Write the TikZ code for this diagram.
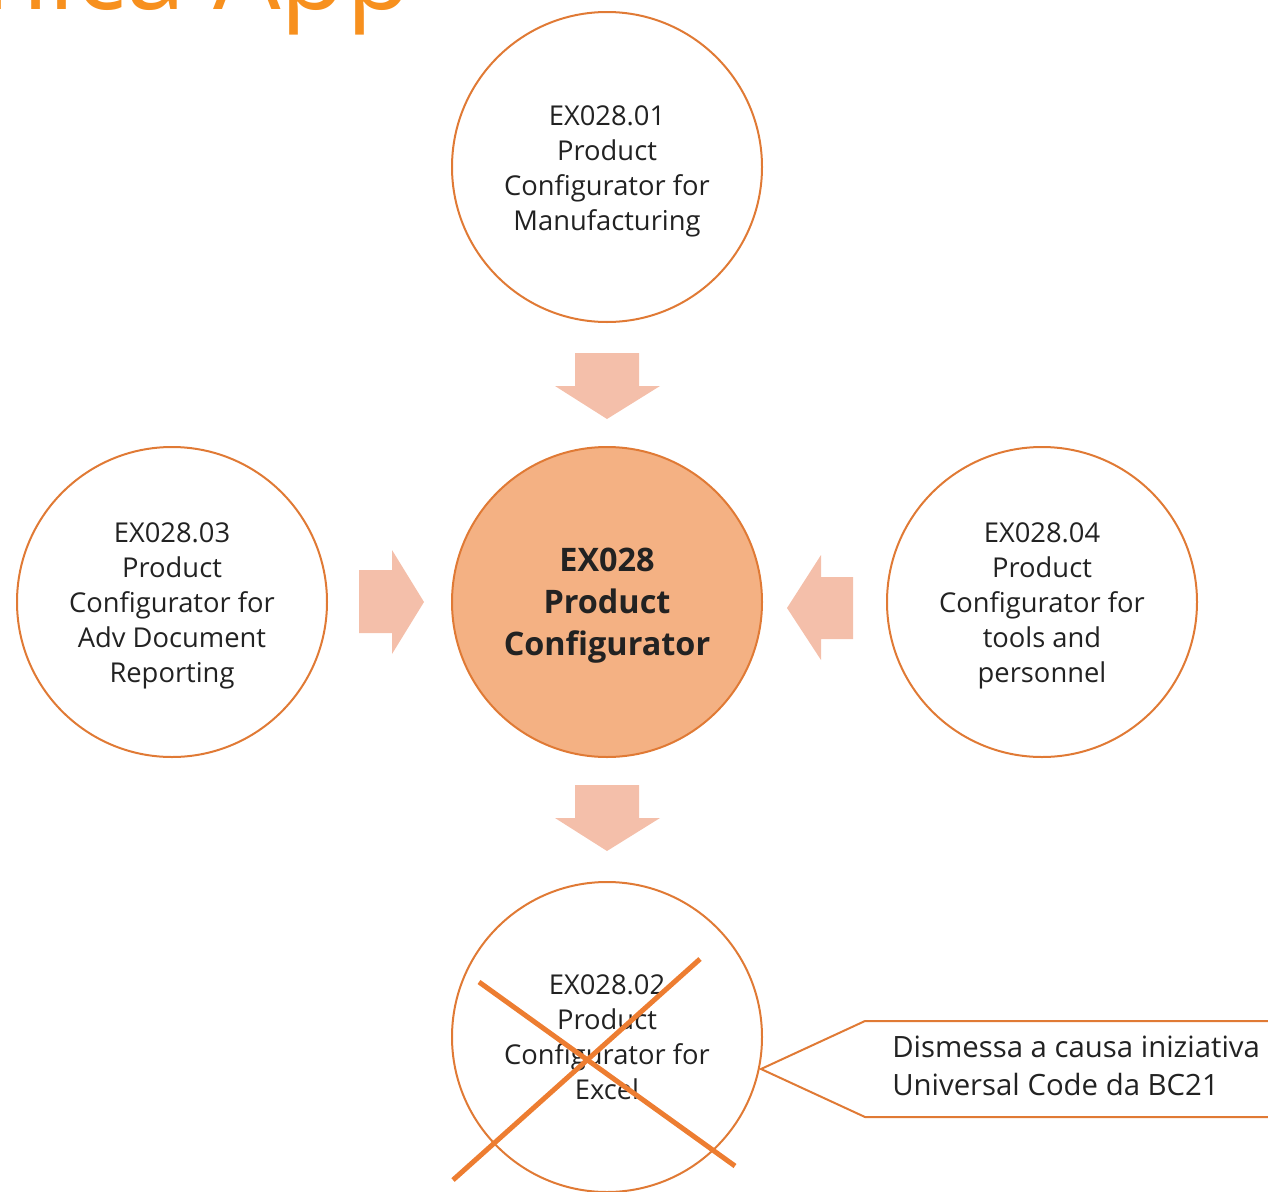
\documentclass[tikz,border=0pt]{standalone}
\usepackage{fontspec}
\setmainfont{Open Sans}
\definecolor{ringc}{HTML}{E07A35}
\definecolor{hubfill}{HTML}{F4B183}
\definecolor{arrowc}{HTML}{F4BFAA}
\definecolor{crossc}{HTML}{ED7D31}
\definecolor{titlec}{HTML}{F7901E}
\definecolor{txt}{HTML}{222222}
\begin{document}
\begin{tikzpicture}[x=0.75pt,y=-0.75pt,
  ring/.style={circle,draw=ringc,line width=1.5pt,minimum size=232.5pt,inner sep=0pt},
  hub/.style={ring,fill=hubfill},
  ringtext/.style={align=center,text=txt,inner sep=0pt,font=\fontsize{20.5}{26.25}\selectfont},
  hubtext/.style={align=center,text=txt,inner sep=0pt,font=\fontsize{24.3}{31.5}\selectfont\bfseries},
  blockarrow/.style={fill=arrowc,draw=none},
  cross/.style={draw=crossc,line width=3.75pt},
  callout/.style={draw=ringc,line width=1.5pt,fill=white},
  note/.style={anchor=west,align=left,text=txt,inner sep=0pt,font=\fontsize{22}{28}\selectfont}]
\useasboundingbox (0,0) rectangle (1268,1192);
\clip (0,0) rectangle (1268,1192);
% title fragment
\node[anchor=base east,inner sep=0pt,text=titlec,font=\fontsize{80}{90}\selectfont] (title) at (412,10) {Tecnica App};
% circles
\node[ring] (top) at (607,167) {};
\node[hub] (hub) at (607,602) {};
\node[ring] (left) at (172,602) {};
\node[ring] (right) at (1042,602) {};
\node[ring] (bot) at (607,1037) {};
% circle texts
\node[ringtext] (toptxt) at (607,171.5) {EX028.01\\Product\\Configurator for\\Manufacturing};
\node[hubtext] (hubtxt) at (607,606) {EX028\\Product\\Configurator};
\node[ringtext] (lefttxt) at (172,606) {EX028.03\\Product\\Configurator for\\Adv Document\\Reporting};
\node[ringtext] (righttxt) at (1042,606) {EX028.04\\Product\\Configurator for\\tools and\\personnel};
\node[ringtext] (bottxt) at (607,1037) {EX028.02\\Product\\Configurator for\\Excel};
% block arrows
\fill[blockarrow] (575,353) -- (639,353) -- (639,386) -- (660,386) -- (607,419) -- (555,386) -- (575,386) -- cycle;
\fill[blockarrow] (575,785) -- (639,785) -- (639,818) -- (660,818) -- (607,851) -- (555,818) -- (575,818) -- cycle;
\fill[blockarrow] (359,570) -- (392,570) -- (392,550) -- (424,602) -- (392,654) -- (392,633) -- (359,633) -- cycle;
\fill[blockarrow] (853,577) -- (821,577) -- (821,555) -- (787,608) -- (821,660) -- (821,639) -- (853,639) -- cycle;
% cross
\coordinate (c1a) at (479,982);
\coordinate (c1b) at (735,1166);
\coordinate (c2a) at (700,959);
\coordinate (c2b) at (453,1180);
\draw[cross] (c1a) -- (c1b);
\draw[cross] (c2a) -- (c2b);
% callout
\coordinate (cpt) at (761,1069);
\draw[callout] (cpt) -- (865,1021) -- (1280,1021) -- (1280,1117) -- (865,1117) -- cycle;
\node[note] (dism) at (892,1066) {Dismessa a causa iniziativa\\Universal Code da BC21};
\end{tikzpicture}
\end{document}
